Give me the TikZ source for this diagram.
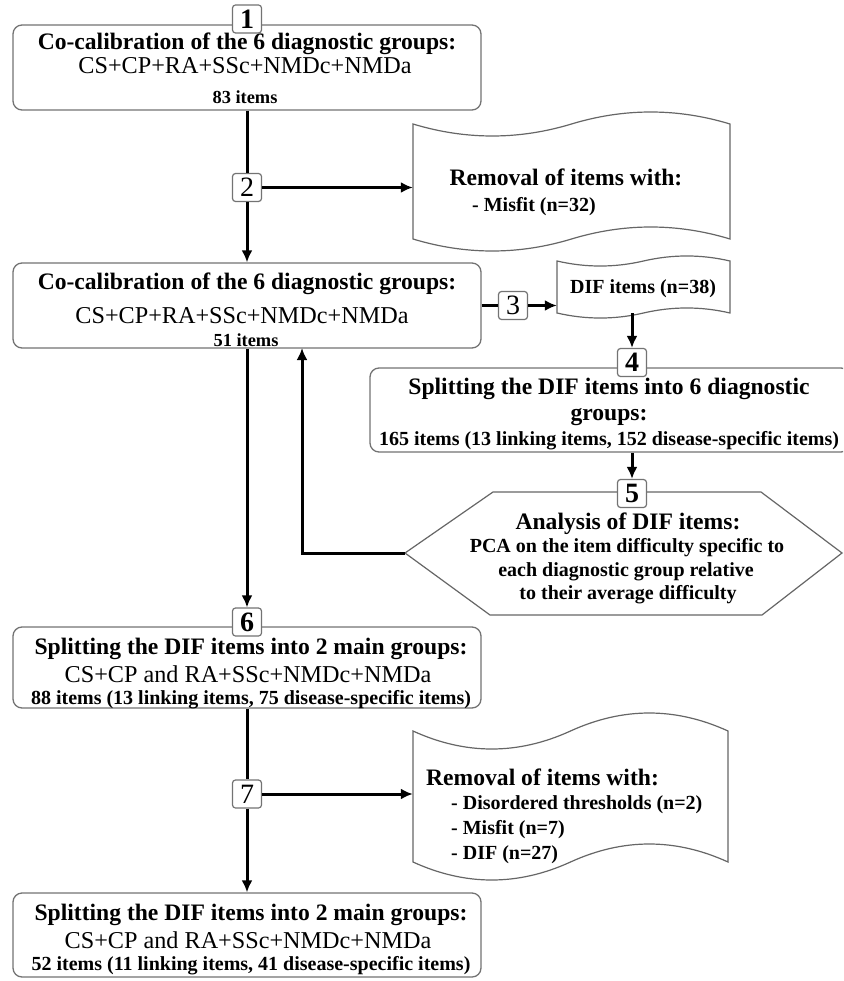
\documentclass[tikz,border=0pt]{standalone}
\usepackage{fontspec}
\setmainfont{Liberation Serif}
\usetikzlibrary{arrows.meta}
\begin{document}
\begin{tikzpicture}[x=1pt,y=-1pt,
  box/.style={draw=black!55, line width=1.3pt, rounded corners=9pt, fill=white, inner sep=0pt},
  numbox/.style={draw=black!55, line width=1.2pt, rounded corners=3pt, fill=white, minimum width=29pt, minimum height=28pt, inner sep=0pt, font=\fontsize{28}{28}\selectfont\bfseries},
  numboxr/.style={numbox, font=\fontsize{28}{28}\selectfont},
  tapeline/.style={draw=black!60, line width=1.2pt, fill=white},
  hexline/.style={draw=black!60, line width=1.2pt, fill=white},
  conn/.style={line width=3pt, black},
  arr/.style={conn, -{Latex[length=12pt,width=11pt]}},
  area/.style={inner sep=0pt, draw=none},
  tb/.style={inner sep=0pt, anchor=base, font=\fontsize{23.6}{26}\selectfont\bfseries},
  tr/.style={inner sep=0pt, anchor=base, font=\fontsize{24.2}{26}\selectfont},
  tm/.style={inner sep=0pt, anchor=base, font=\fontsize{20}{22}\selectfont\bfseries},
  ts/.style={inner sep=0pt, anchor=base, font=\fontsize{18.4}{20}\selectfont\bfseries},
]
\useasboundingbox (0,0) rectangle (843,981);
\clip (0,0) rectangle (843,981);

% ---------- main boxes ----------
\node[box, minimum width=468pt, minimum height=85pt] (b1) at (247,67.5) {};
\node[box, minimum width=468pt, minimum height=85pt] (b2) at (247,305.5) {};
\node[box, minimum width=480pt, minimum height=84pt] (b4) at (610,410) {};
\node[box, minimum width=468pt, minimum height=81pt] (b6) at (247,667.5) {};
\node[box, minimum width=468pt, minimum height=84pt] (b7) at (247,935) {};

% ---------- tapes ----------
\draw[tapeline] (413,124) .. controls (465.8,140) and (518.7,140) .. (571.5,124)
  .. controls (624.3,108) and (677.2,108) .. (730,124) -- (730,239)
  .. controls (677.2,223) and (624.3,223) .. (571.5,239)
  .. controls (518.7,255) and (465.8,255) .. (413,239) -- cycle;
\node[area, minimum width=317pt, minimum height=115pt] (rem1) at (571.5,181.5) {};

\draw[tapeline] (557,261) .. controls (585.8,267.7) and (614.7,267.7) .. (643.5,261)
  .. controls (672.3,254.3) and (701.2,254.3) .. (730,261) -- (730,313)
  .. controls (701.2,306.3) and (672.3,306.3) .. (643.5,313)
  .. controls (614.7,319.7) and (585.8,319.7) .. (557,313) -- cycle;
\node[area, minimum width=173pt, minimum height=52pt] (dif) at (643.5,287) {};

\draw[tapeline] (413,731) .. controls (465.5,755) and (518,755) .. (570.5,731)
  .. controls (623,707) and (675.5,707) .. (728,731) -- (728,862)
  .. controls (675.5,838) and (623,838) .. (570.5,862)
  .. controls (518,886) and (465.5,886) .. (413,862) -- cycle;
\node[area, minimum width=315pt, minimum height=131pt] (rem2) at (570.5,796.5) {};

% ---------- hexagon ----------
\draw[hexline] (405,553) -- (493,492) -- (761,492) -- (842,553) -- (762,615) -- (490,615) -- cycle;
\coordinate (hexL) at (405,553);
\coordinate (fbin) at (302,348);

% ---------- texts ----------
\node[tb] (b1a) at (247,50) {Co-calibration of the 6 diagnostic groups:};
\node[tr] (b1b) at (245,74) {CS+CP+RA+SSc+NMDc+NMDa};
\node[ts] (b1c) at (245,104) {83 items};

\node[tb] (b2a) at (247,289) {Co-calibration of the 6 diagnostic groups:};
\node[tr] (b2b) at (242,323) {CS+CP+RA+SSc+NMDc+NMDa};
\node[ts] (b2c) at (246,346) {51 items};

\node[tb] (r1a) at (566,186) {Removal of items with:};
\node[tm, anchor=base west] (r1b) at (472,212) {- Misfit (n=32)};

\node[tm] (difa) at (643,293) {DIF items (n=38)};

\node[tb] (b4a) at (609,394) {Splitting the DIF items into 6 diagnostic};
\node[tb] (b4b) at (609,420) {groups:};
\node[tm] (b4c) at (609,445) {165 items (13 linking items, 152 disease-specific items)};

\node[tb] (h1) at (628,529) {Analysis of DIF items:};
\node[tm] (h2) at (627,552) {PCA on the item difficulty specific to};
\node[tm] (h3) at (626,576) {each diagnostic group relative};
\node[tm] (h4) at (628,599) {to their average difficulty};

\node[tb] (b6a) at (251,654) {Splitting the DIF items into 2 main groups:};
\node[tr] (b6b) at (248,682) {CS+CP and RA+SSc+NMDc+NMDa};
\node[tm] (b6c) at (251,704) {88 items (13 linking items, 75 disease-specific items)};

\node[tb, anchor=base west] (r2a) at (426,785) {Removal of items with:};
\node[tm, anchor=base west] (r2b) at (451,809) {- Disordered thresholds (n=2)};
\node[tm, anchor=base west] (r2c) at (451,834) {- Misfit (n=7)};
\node[tm, anchor=base west] (r2d) at (451,859) {- DIF (n=27)};

\node[tb] (b7a) at (251,920) {Splitting the DIF items into 2 main groups:};
\node[tr] (b7b) at (248,948) {CS+CP and RA+SSc+NMDc+NMDa};
\node[tm] (b7c) at (251,970) {52 items (11 linking items, 41 disease-specific items)};

% ---------- number labels ----------
\node[numbox] (n1) at (247,19) {1};
\node[numboxr] (n2) at (247,187.5) {2};
\node[numboxr] (n3) at (513,305.5) {3};
\node[numbox] (n4) at (632,362.5) {4};
\node[numbox] (n5) at (632,493.5) {5};
\node[numbox] (n6) at (247,622) {6};
\node[numboxr] (n7) at (247,794) {7};

% ---------- connectors ----------
\draw[conn] (b1.south) -- (n2.north);
\draw[arr] (n2.south) -- (b2.north);
\draw[arr] (n2.east) -- (n2.east -| rem1.west);
\draw[conn] (b2.east) -- (n3.west);
\draw[arr] (n3.east) -- (n3.east -| dif.west);
\draw[arr] (n4 |- dif.south) -- (n4.north);
\draw[arr] (n5 |- b4.south) -- (n5.north);
\draw[arr] (hexL) -| (fbin);
\draw[arr] (b2.south) -- (n6.north);
\draw[conn] (b6.south) -- (n7.north);
\draw[arr] (n7.south) -- (b7.north);
\draw[arr] (n7.east) -- (n7.east -| rem2.west);
\end{tikzpicture}
\end{document}
